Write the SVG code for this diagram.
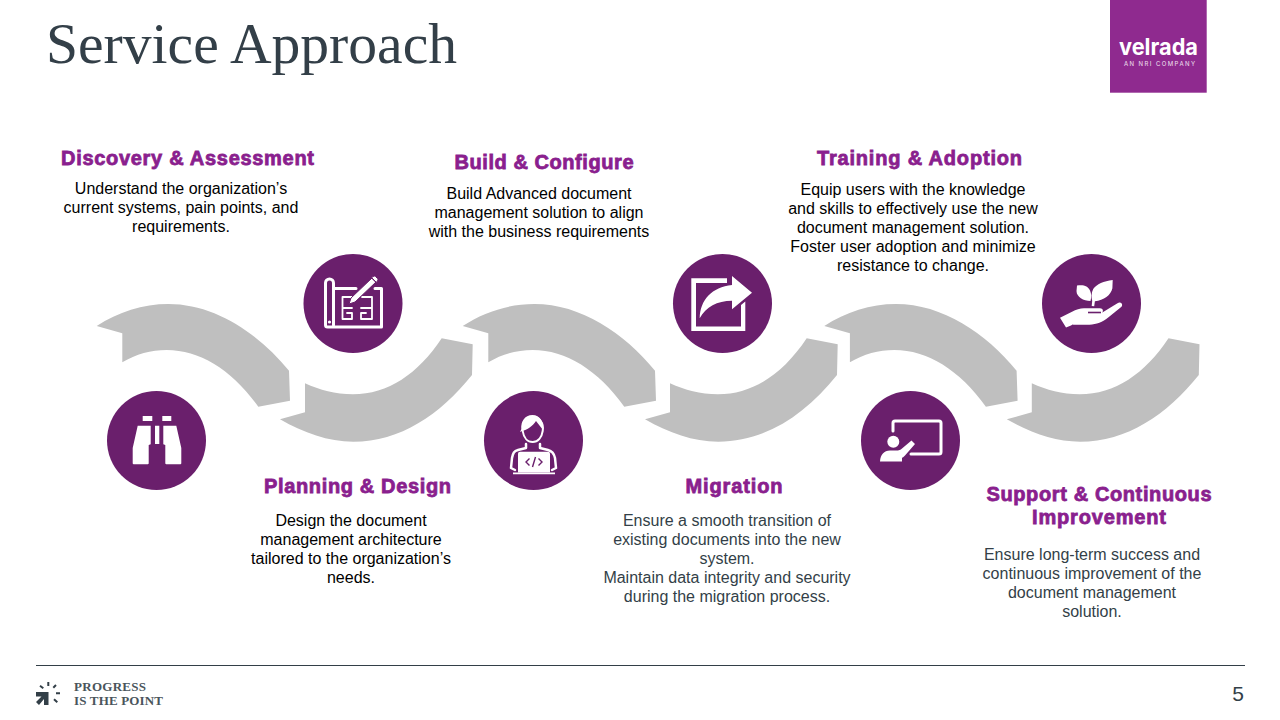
<svg xmlns="http://www.w3.org/2000/svg" xmlns:xlink="http://www.w3.org/1999/xlink" width="1280" height="720" viewBox="0 0 1280 720">
<style>
.h{font:bold 20px "Liberation Sans",Arial,sans-serif;fill:#8a1f8e;stroke:#8a1f8e;stroke-width:.8;text-anchor:middle}
.b{font:16px "Liberation Sans",Arial,sans-serif;fill:#000;text-anchor:middle}
.g{fill:#333f48}
.c{fill:#6a1f6c}
.w{fill:#fff}
.s{fill:none;stroke:#fff;stroke-width:3;stroke-linecap:round;stroke-linejoin:round}
.a{fill:#bfbfbf}
</style>
<defs>
<path id="top" class="a" d="M96.7 326C118 312 143 304 168.3 304C215 304 258 333 289 370.7L290 400.7L258.300 406.700C232 370 200 350 166.700 350C151 350 136 354 122.300 362.300L122.300 333.300Z"/>
<path id="bot" class="a" d="M280 419.300L305 412.300L305 383.300C320 390 335 394.300 353 394.300C388 394.300 418 374 441.700 338.300L472.700 344.300L472 375C440 415 400 441.700 353.300 441.700C328 441.700 304 433 280 419.300Z"/>
</defs>
<rect width="1280" height="720" fill="#fff"/>
<text x="46" y="63" font-family="'Liberation Serif',Georgia,serif" font-size="58" fill="#333f48" textLength="411" lengthAdjust="spacingAndGlyphs">Service Approach</text>
<g id="logo">
<rect x="1110" y="0" width="96.700" height="92.700" fill="#8f2a8f"/>
<text x="1119" y="55" font-family="Inter,'Liberation Sans',sans-serif" font-size="23" font-weight="700" fill="#fff" textLength="79" lengthAdjust="spacingAndGlyphs">velrada</text>
<text x="1124" y="66" font-family="Inter,'Liberation Sans',sans-serif" font-size="6" fill="#f0e0f0" textLength="71">AN NRI COMPANY</text>
</g>
<g id="connectors">
<use xlink:href="#top"/><use xlink:href="#bot"/>
<use xlink:href="#top" x="366"/><use xlink:href="#bot" x="365"/>
<use xlink:href="#top" x="727.600"/><use xlink:href="#bot" x="726.800"/>
</g>
<g id="node-discovery">
<circle class="c" cx="156.500" cy="440.500" r="49.500"/>
<path class="w" d="M142.700 416h9.600v5h-9.600zM162.300 416h9v5h-9zM155 425.700h4.300V444H155zM137.700 425.700h13V444.300l-2 .7v18.300q0 1-1 1h-14q-1 0-1-1V448zM176.300 425.700h-13V444.300l2 .7v18.300q0 1 1 1h14q1 0 1-1V448z"/>
<text class="h" x="187.500" y="165" textLength="253">Discovery &amp; Assessment</text>
<text class="b"><tspan x="181" y="194">Understand the organization’s</tspan><tspan x="181" y="213">current systems, pain points, and</tspan><tspan x="181" y="232">requirements.</tspan></text>
</g>
<g id="node-planning">
<circle class="c" cx="353" cy="303.500" r="49.500"/>
<path class="s" d="M325.500 325V283a4 4 0 0 1 8 0V325M325.500 325q0 2 2 2H381.500V288.500H375M333.500 288.500H356"/>
<circle class="w" cx="329.500" cy="322" r="1.600"/>
<path class="s" style="stroke-width:1.800" d="M352 297H342.500V308H352M342.500 308V319H352V313H347M361 319H372V297H362M372 308H361M361 319V313H366"/>
<path class="w" d="M349 304l2-6 21-20 4 4-21 20zM373 276.500q1.500-1 2.500 0l2 2q1 1 0 2.500l-1.500 1.500-4.500-4.500z" stroke="#6a1f6c" stroke-width="1"/>
<text class="h" x="357.500" y="493" textLength="187">Planning &amp; Design</text>
<text class="b"><tspan x="351" y="526">Design the document</tspan><tspan x="351" y="545">management architecture</tspan><tspan x="351" y="564">tailored to the organization’s</tspan><tspan x="351" y="583">needs.</tspan></text>
</g>
<g id="node-build">
<circle class="c" cx="533.500" cy="440.500" r="49.500"/>
<path class="s" d="M532.700 417c-7 0-11 6-10 14 1 7 5 11 10 11s9-4 10-11c1-5-.5-8-2-10-2-3-5-4-8-4z" style="stroke-width:2"/>
<path class="w" d="M522 431c5-1 11-5 14-10l7 9c1-8-3-15-10.500-15-8 0-12 7-11 14l-1.500 3z"/>
<path class="s" style="stroke-width:2.500" d="M526 444v4l-8 2c-4 1-5 3-6 8l-1 10 4 2M540 444v4l8 2c4 1 6 3 7 8l1 10-4 2"/>
<path class="w" d="M520 451.700h28q2 0 2 2v18.600h-32v-18.600q0-2 2-2zM513 472.500h42v1.800h-42z"/>
<path d="M529.500 458.500l-3.500 3.500 3.500 3.500M538.500 458.500l3.500 3.500-3.500 3.500M535.500 457l-3 10" fill="none" stroke="#6a1f6c" stroke-width="1.400"/>
<text class="h" x="544" y="169" textLength="179">Build &amp; Configure</text>
<text class="b"><tspan x="539" y="199">Build Advanced document</tspan><tspan x="539" y="218">management solution to align</tspan><tspan x="539" y="237">with the business requirements</tspan></text>
</g>
<g id="node-migration">
<circle class="c" cx="722.500" cy="303.500" r="49.500"/>
<path class="w" d="M691.300 278.300H727V283H696V326.500H741V305L745.300 301.500V331H691.300z"/>
<path class="w" d="M752 292.700L732 276V285C712 287 700 300 699.700 318.300C706 307 717 300.700 732 300.700V309.300z"/>
<text class="h" x="734" y="493" textLength="97">Migration</text>
<text class="b g"><tspan x="727" y="526">Ensure a smooth transition of</tspan><tspan x="727" y="545">existing documents into the new</tspan><tspan x="727" y="564">system.</tspan><tspan x="727" y="583">Maintain data integrity and security</tspan><tspan x="727" y="602">during the migration process.</tspan></text>
</g>
<g id="node-training">
<circle class="c" cx="910.500" cy="440.500" r="49.500"/>
<path class="s" d="M893 431V423q0-2 2-2H939q2 0 2 2V452q0 2-2 2H911"/>
<circle class="w" cx="893.300" cy="441.700" r="6"/>
<path class="w" d="M880 461.500c.5-7 4-11 10-11h6c3 0 4.500-.5 6-2l9.500-8 3.500 3.500-10 11.500c-1.500 1.500-2.500 2-3 2.500v3.500z"/>
<text class="h" x="919.500" y="165" textLength="205">Training &amp; Adoption</text>
<text class="b"><tspan x="913" y="195">Equip users with the knowledge</tspan><tspan x="913" y="214">and skills to effectively use the new</tspan><tspan x="913" y="233">document management solution.</tspan><tspan x="913" y="252">Foster user adoption and minimize</tspan><tspan x="913" y="271">resistance to change.</tspan></text>
</g>
<g id="node-support">
<circle class="c" cx="1091.500" cy="303.500" r="49.500"/>
<path class="w" d="M1077 285.500c6-1 11 0 13 5 1.500 3 1.500 7 .5 10.500-7 0-14-4-14-10zM1112.700 280c-9 1-16 4-19.500 9-2 4-2 8-1 12l-.5 5 2.500.3.700-5c9-1 16-6 17.500-13z"/>
<path class="w" d="M1060 317.700l15-7.500c4-1.700 8-2 12-2h13c3 0 4 3.300 1.500 4.800l16-9.800c3-2 6 1 4 3.500l-13 10.500c-6 5-12 7-19 7.500h-16l-1-.2-1.500 1-5 2z"/>
<path d="M1088 312.500h13" stroke="#6a1f6c" stroke-width="1.600" fill="none"/>
<text class="h" x="1099" y="501" textLength="225">Support &amp; Continuous</text>
<text class="h" x="1099" y="524" textLength="134">Improvement</text>
<text class="b g"><tspan x="1092" y="560">Ensure long-term success and</tspan><tspan x="1092" y="579">continuous improvement of the</tspan><tspan x="1092" y="598">document management</tspan><tspan x="1092" y="617">solution.</tspan></text>
</g>
<g id="footer">
<line x1="36" y1="665.500" x2="1245" y2="665.500" stroke="#333f48" stroke-width="1"/>
<path fill="#333f48" d="M36 692H48.500V705H44V699L39 705 36 702 41.500 696.500H36Z"/>
<path stroke="#333f48" stroke-width="2" fill="none" d="M48.300 682v4M40 685.700l3.300 2.600M56 685l-2.700 2.700M56 693.300h4M54 699.300l3.300 3"/>
<text font-family="'Liberation Serif',Georgia,serif" font-size="13" font-weight="700" fill="#4a555c"><tspan x="74" y="691" textLength="72">PROGRESS</tspan><tspan x="74" y="705" textLength="89">IS THE POINT</tspan></text>
<text x="1238" y="701" font-family="'Liberation Sans',Arial,sans-serif" font-size="21" fill="#333f48" text-anchor="middle">5</text>
</g>
</svg>
